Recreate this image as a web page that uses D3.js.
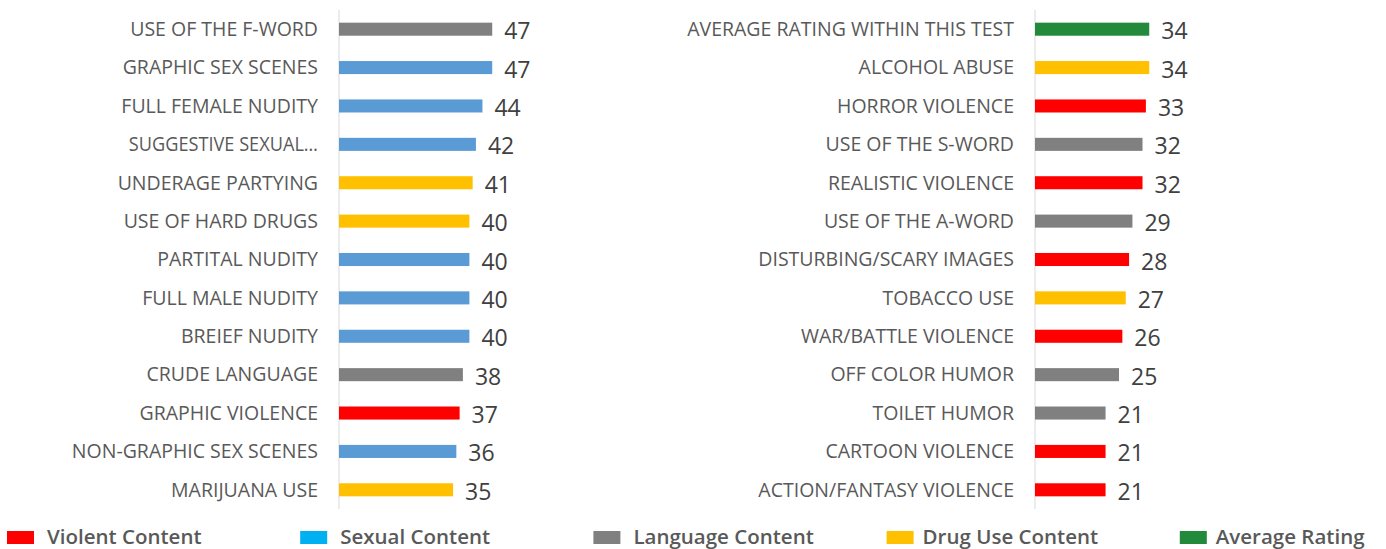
<!DOCTYPE html>
<html>
<head>
<meta charset="utf-8">
<script src="https://cdn.jsdelivr.net/npm/d3@7"></script>
<style>
  body { margin: 0; background: #fff; }
</style>
</head>
<body>
<div class="chart"></div>
<script>
// Data for the two panels
const leftLabels = ["USE OF THE F-WORD", "GRAPHIC SEX SCENES", "FULL FEMALE NUDITY", "SUGGESTIVE SEXUAL\u2026",
  "UNDERAGE PARTYING", "USE OF HARD DRUGS", "PARTITAL NUDITY", "FULL MALE NUDITY", "BREIEF NUDITY",
  "CRUDE LANGUAGE", "GRAPHIC VIOLENCE", "NON-GRAPHIC SEX SCENES", "MARIJUANA USE"];
const leftValues = [47, 47, 44, 42, 41, 40, 40, 40, 40, 38, 37, 36, 35];
const leftTypes = ["lang", "sex", "sex", "sex", "drug", "drug", "sex", "sex", "sex", "lang", "violent", "sex", "drug"];

const rightLabels = ["AVERAGE RATING WITHIN THIS TEST", "ALCOHOL ABUSE", "HORROR VIOLENCE", "USE OF THE S-WORD",
  "REALISTIC VIOLENCE", "USE OF THE A-WORD", "DISTURBING/SCARY IMAGES", "TOBACCO USE", "WAR/BATTLE VIOLENCE",
  "OFF COLOR HUMOR", "TOILET HUMOR", "CARTOON VIOLENCE", "ACTION/FANTASY VIOLENCE"];
const rightValues = [34, 34, 33, 32, 32, 29, 28, 27, 26, 25, 21, 21, 21];
const rightTypes = ["avg", "drug", "violent", "lang", "violent", "lang", "violent", "drug", "violent",
  "lang", "lang", "violent", "violent"];

const legendNames = ["Violent Content", "Sexual Content", "Language Content", "Drug Use Content", "Average Rating"];
const legendKeys = ["violent", "sexLegend", "lang", "drug", "avg"];

const colors = {
  violent: "#FF0000",
  sex: "#5B9BD5",
  sexLegend: "#00B0F0",
  lang: "#808080",
  drug: "#FFC000",
  avg: "#228A3A"
};

const width = 1386;
const height = 549;

const svg = d3.select(".chart")
  .append("svg")
  .attr("width", width)
  .attr("height", height);

function makePanel(labels, values, types, axisX, pxPerUnit) {
  const rows = labels.map((l, i) => ({label: l, value: values[i], type: types[i]}));

  const xScale = d3.scaleLinear()
    .domain([0, 50])
    .range([axisX, axisX + 50 * pxPerUnit]);

  const yScale = d3.scaleBand()
    .domain(labels)
    .range([10, 509])
    .paddingInner(0.66)
    .paddingOuter(0.33);

  const g = svg.append("g");

  // vertical axis line
  g.append("line")
    .attr("x1", axisX).attr("x2", axisX)
    .attr("y1", 10).attr("y2", 509)
    .attr("stroke", "#d9d9d9")
    .attr("stroke-width", 1);

  g.selectAll(".bar")
    .data(rows)
    .enter()
    .append("rect")
    .attr("class", "bar")
    .attr("x", xScale(0))
    .attr("y", d => yScale(d.label))
    .attr("width", d => xScale(d.value) - xScale(0))
    .attr("height", yScale.bandwidth())
    .attr("fill", d => colors[d.type]);

  g.selectAll(".cat")
    .data(rows)
    .enter()
    .append("text")
    .attr("class", "cat")
    .attr("x", axisX - 21)
    .attr("y", d => yScale(d.label) + yScale.bandwidth() / 2)
    .attr("dy", "0.35em")
    .attr("text-anchor", "end")
    .attr("font-family", "Open Sans")
    .attr("font-size", 19.5)
    .attr("fill", "#595959")
    .text(d => d.label)
    // the truncated label uses a tighter ellipsis in the original
    .each(function(d) {
      if (d.label.endsWith("\u2026")) {
        const len = this.getComputedTextLength();
        d3.select(this).attr("textLength", len - 14).attr("lengthAdjust", "spacingAndGlyphs");
      }
    });

  g.selectAll(".val")
    .data(rows)
    .enter()
    .append("text")
    .attr("class", "val")
    .attr("x", d => xScale(d.value) + 12)
    .attr("y", d => yScale(d.label) + yScale.bandwidth() / 2 + 2)
    .attr("dy", "0.35em")
    .attr("font-family", "Open Sans")
    .attr("font-size", 23)
    .attr("fill", "#404040")
    .text(d => d.value);
}

makePanel(leftLabels, leftValues, leftTypes, 339, 3.26);
makePanel(rightLabels, rightValues, rightTypes, 1035, 3.36);

// Legend along the bottom
const legend = svg.append("g");
legendNames.forEach((name, i) => {
  const x0 = 7 + i * 293.2;
  legend.append("rect")
    .attr("x", x0)
    .attr("y", 531)
    .attr("width", 27)
    .attr("height", 13)
    .attr("fill", colors[legendKeys[i]]);
  legend.append("text")
    .attr("x", x0 + (i < 3 ? 40 : 36))
    .attr("y", 537)
    .attr("dy", "0.35em")
    .attr("font-family", "Open Sans")
    .attr("font-weight", 600)
    .attr("font-size", 20.5)
    .attr("fill", "#595959")
    .text(name);
});
</script>
</body>
</html>
